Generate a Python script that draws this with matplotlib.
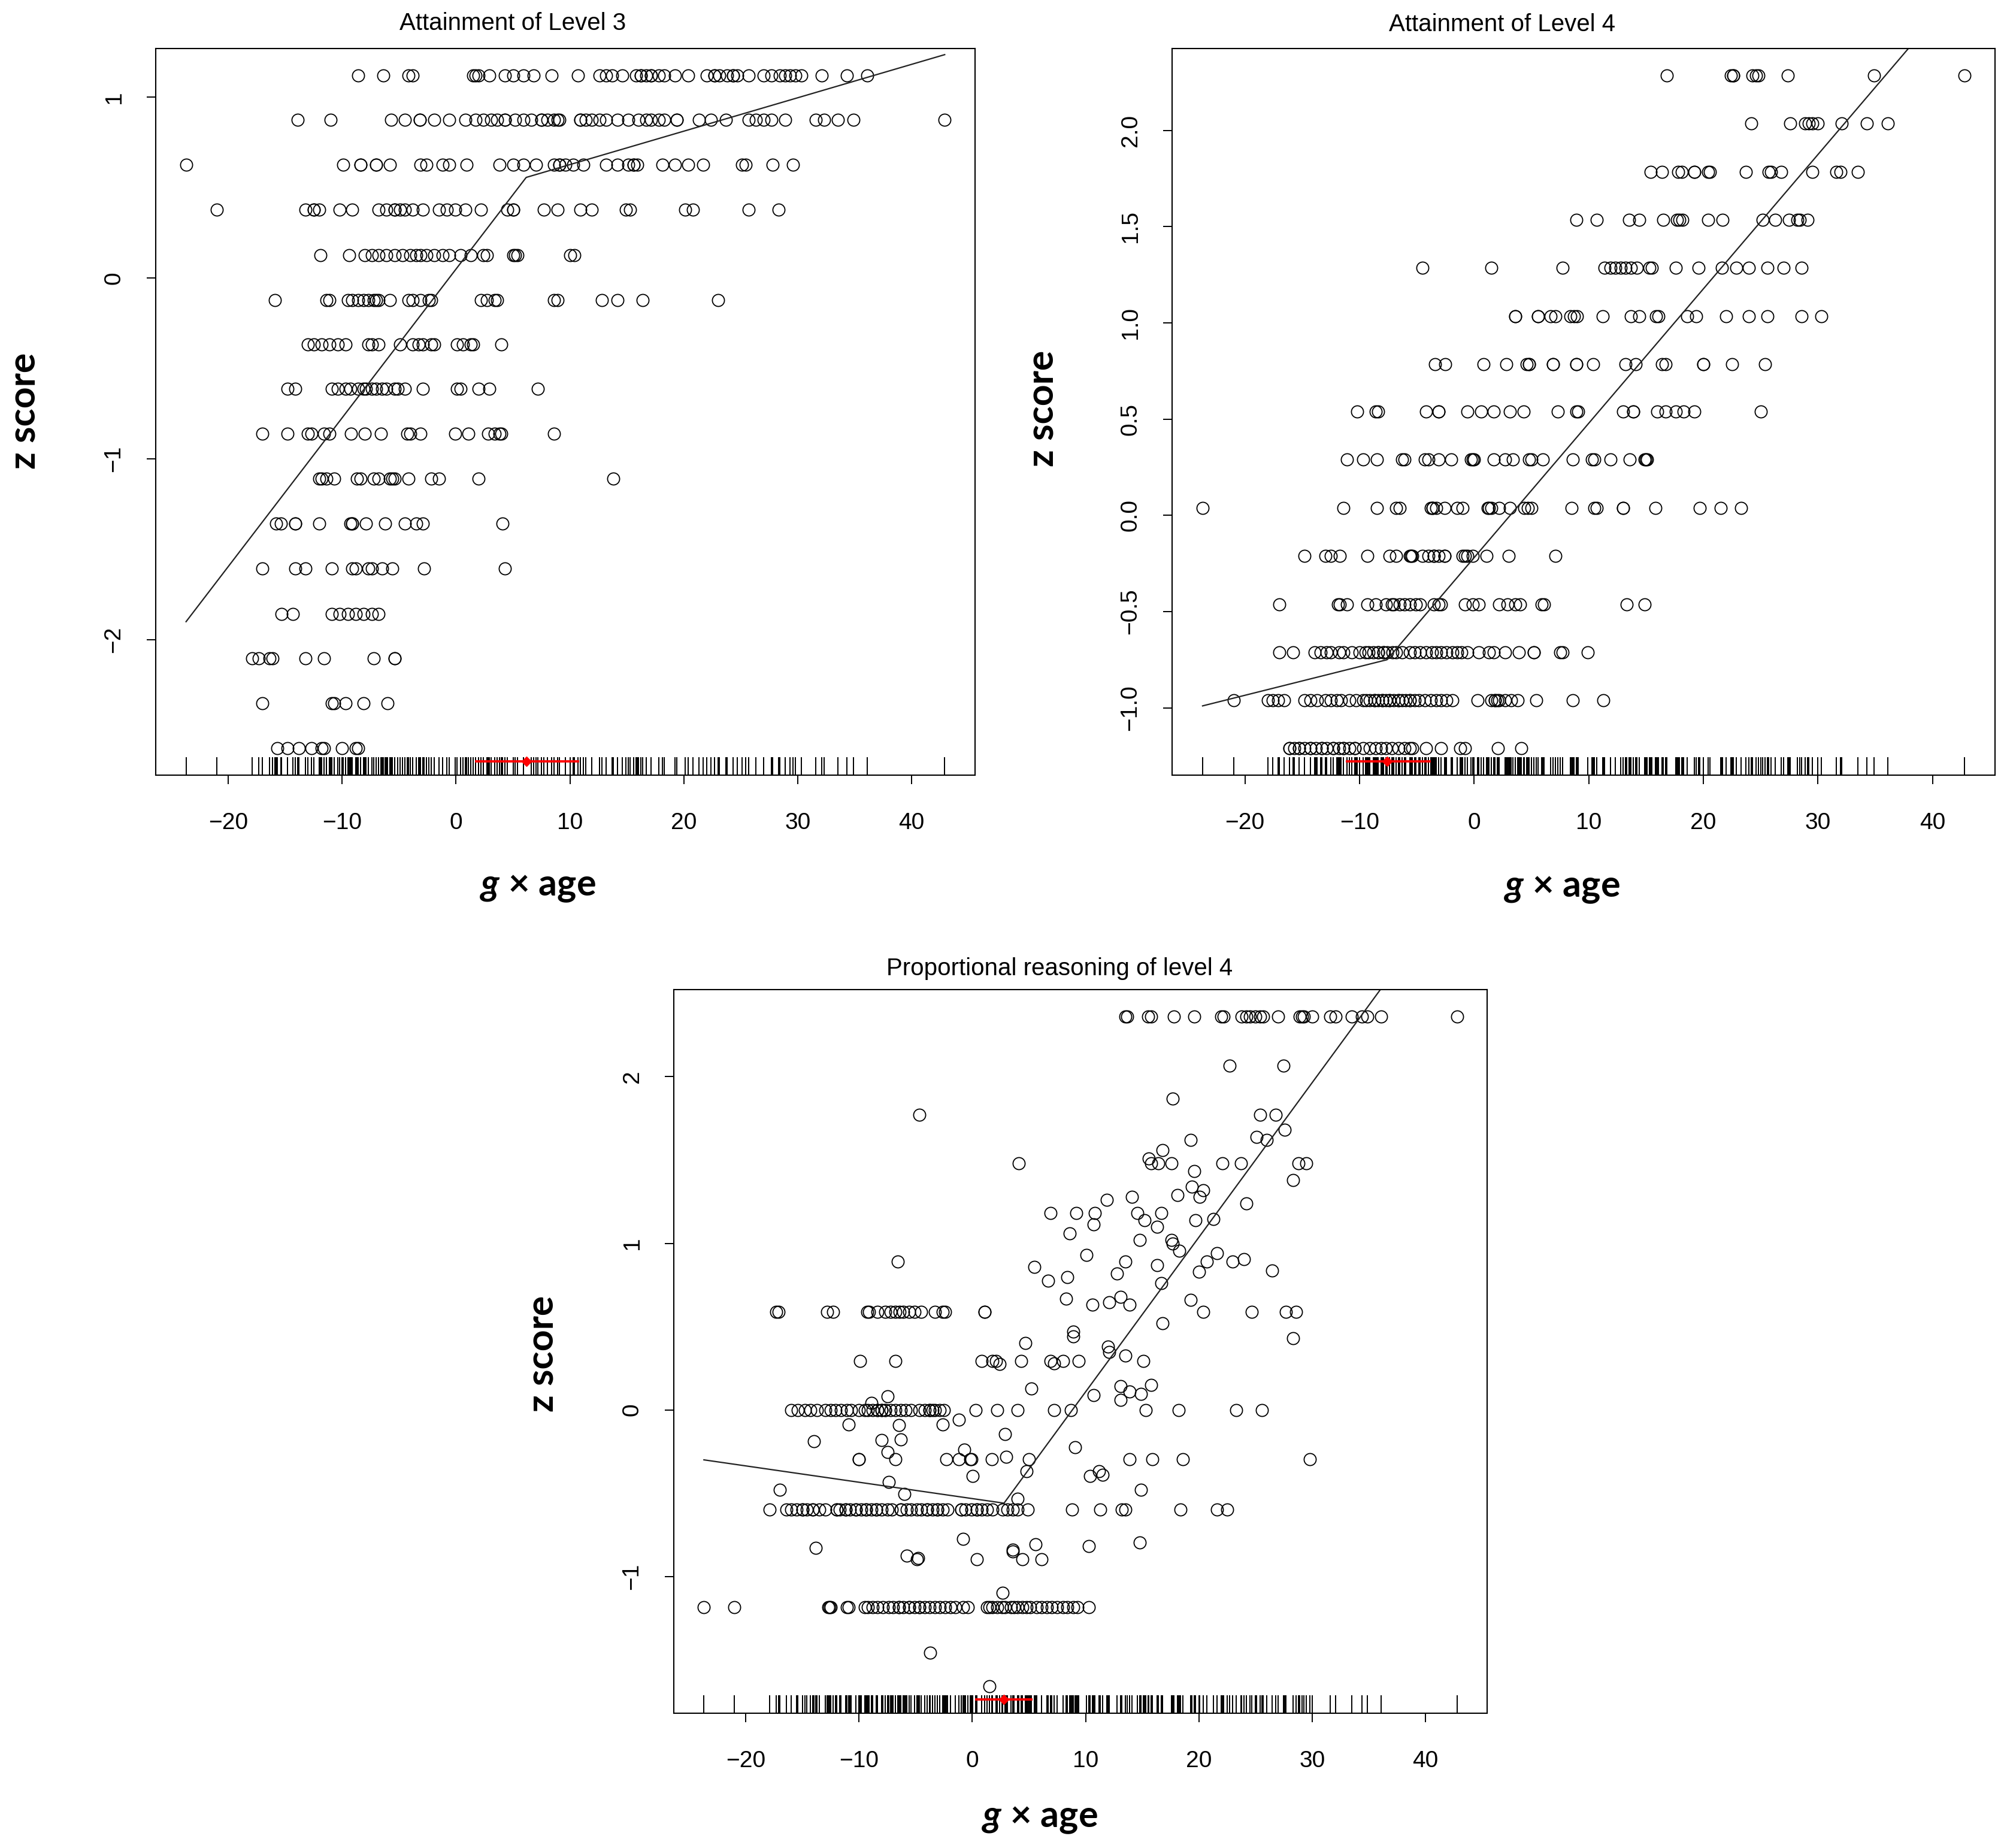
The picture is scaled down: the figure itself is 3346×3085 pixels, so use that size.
import matplotlib
matplotlib.use('Agg')
import matplotlib.pyplot as plt

plt.rcParams['font.family'] = ['Liberation Sans', 'DejaVu Sans']
plt.rcParams['mathtext.fontset'] = 'custom'
plt.rcParams['mathtext.it'] = 'Lato:italic:bold'
plt.rcParams['mathtext.rm'] = 'Lato:bold'

# ---------------- Attainment of Level 3 ----------------
l3_levels = [1.121, 0.875, 0.626, 0.377, 0.128, -0.121, -0.367, -0.613,
             -0.862, -1.108, -1.357, -1.607, -1.856, -2.102, -2.351, -2.600]
l3_rows = [
    [-8.6, -6.4, -4.2, -3.8, 1.5, 1.7, 2.0, 2.9, 4.3, 5.0, 5.9, 6.8, 8.4, 10.7, 12.6, 13.2, 13.7, 14.6,
     15.8, 16.2, 16.2, 16.7, 17.1, 17.1, 17.8, 18.3, 19.2, 20.4, 22.0, 22.7, 22.7, 23.1, 23.8, 24.3, 24.3,
     24.7, 25.7, 27.0, 27.7, 28.4, 28.9, 29.3, 29.8, 30.3, 32.1, 34.3, 36.1],
    [-13.9, -11.0, -5.7, -4.5, -3.2, -3.2, -1.9, -0.6, 0.8, 1.7, 2.4, 3.1, 3.6, 4.3, 4.3, 5.2, 5.9, 6.6,
     7.5, 7.5, 8.0, 8.6, 8.9, 9.1, 10.9, 10.9, 11.4, 11.9, 12.6, 13.2, 14.2, 15.1, 16.0, 16.7, 17.1, 17.8,
     18.3, 19.4, 19.4, 21.3, 22.4, 23.7, 25.7, 26.3, 27.0, 27.7, 28.9, 31.6, 32.3, 33.5, 34.9, 42.9],
    [-23.7, -9.9, -8.4, -8.4, -7.0, -7.0, -5.8, -3.1, -2.6, -1.2, -0.6, 0.9, 3.8, 5.0, 5.9, 7.0, 8.6, 9.1,
     9.1, 9.6, 10.3, 11.2, 13.2, 14.2, 15.1, 15.6, 15.6, 15.9, 18.1, 19.2, 20.4, 21.7, 25.1, 25.4, 27.8, 29.6],
    [-21.0, -13.2, -12.5, -12.5, -12.0, -10.2, -9.1, -6.8, -6.1, -5.4, -5.4, -4.9, -4.5, -3.8, -2.9, -1.5,
     -0.8, -0.1, 0.8, 2.2, 4.5, 5.0, 5.0, 7.7, 8.9, 10.9, 11.9, 14.9, 15.3, 20.1, 20.8, 25.7, 28.3],
    [-11.9, -9.4, -8.0, -7.4, -6.8, -6.1, -5.4, -4.7, -4.0, -3.5, -3.1, -2.6, -1.9, -1.2, -0.6, 0.4, 1.3,
     2.4, 2.7, 5.0, 5.2, 5.4, 10.0, 10.4],
    [-15.9, -11.4, -11.1, -9.5, -9.1, -8.6, -8.1, -7.7, -7.2, -7.0, -6.8, -5.8, -4.2, -3.8, -3.1, -2.4,
     -2.2, 2.2, 2.7, 3.4, 3.6, 8.6, 8.9, 12.8, 14.2, 16.4, 23.0],
    [-13.0, -12.5, -11.8, -11.1, -10.4, -9.7, -7.7, -7.4, -6.8, -4.9, -3.8, -3.3, -2.9, -2.2, -1.9, 0.1,
     0.6, 1.3, 1.5, 4.0],
    [-14.8, -14.1, -10.9, -10.4, -9.7, -9.3, -8.6, -8.1, -7.9, -7.4, -7.0, -6.5, -6.1, -5.4, -5.1, -4.5,
     -2.9, 0.1, 0.4, 2.0, 2.9, 7.2],
    [-17.0, -14.8, -13.0, -12.7, -11.6, -11.1, -9.2, -8.0, -6.6, -4.3, -4.0, -3.1, -0.1, 1.1, 2.8, 3.4,
     3.8, 4.0, 8.6],
    [-12.0, -11.8, -11.4, -10.7, -8.7, -8.4, -7.2, -6.8, -5.8, -5.6, -5.4, -4.2, -2.2, -1.5, 2.0, 13.8],
    [-15.8, -15.4, -14.1, -14.1, -12.0, -9.3, -9.1, -9.1, -7.9, -6.2, -4.5, -3.5, -2.9, 4.1],
    [-17.0, -14.1, -13.2, -10.9, -9.1, -8.8, -7.7, -7.4, -6.5, -5.6, -2.8, 4.3],
    [-15.3, -14.3, -10.9, -10.2, -9.5, -8.8, -8.1, -7.4, -6.8],
    [-17.9, -17.3, -16.4, -16.1, -13.2, -11.6, -7.2, -5.4, -5.4],
    [-17.0, -10.9, -10.7, -9.7, -8.1, -6.0],
    [-15.7, -14.8, -13.8, -12.7, -11.8, -11.6, -10.0, -8.8, -8.6],
]
l3_fit_x = [-23.7, 6.16, 42.9]
l3_fit_y = [-1.90, 0.557, 1.236]
l3_psi, l3_ci = 6.16, (1.75, 10.7)

# ---------------- Attainment of Level 4 ----------------
l4_levels = [2.286, 2.037, 1.785, 1.536, 1.287, 1.035, 0.786, 0.538, 0.289, 0.037,
             -0.212, -0.464, -0.713, -0.962, -1.210]
l4_rows = [
    [16.8, 22.4, 22.6, 22.6, 24.3, 24.6, 24.8, 27.4, 34.9, 42.8],
    [24.2, 27.6, 28.9, 29.2, 29.5, 30.0, 32.1, 34.3, 36.1],
    [15.4, 16.4, 17.8, 18.1, 19.2, 19.2, 20.4, 20.6, 23.7, 25.7, 25.9, 26.8, 29.5, 31.6, 32.0, 33.5],
    [8.9, 10.7, 13.5, 14.4, 16.5, 17.7, 17.9, 18.2, 20.4, 21.7, 25.2, 26.3, 27.5, 28.2, 28.4, 29.1],
    [-4.5, 1.5, 7.7, 11.4, 11.9, 12.3, 12.8, 13.2, 13.7, 14.2, 15.3, 15.5, 17.6, 19.6, 21.6, 22.9, 24.0,
     25.6, 27.0, 28.6],
    [3.6, 3.6, 5.6, 5.6, 6.7, 7.1, 8.4, 8.7, 9.0, 11.2, 13.7, 14.4, 15.9, 16.1, 18.6, 19.4, 22.0, 24.0,
     25.6, 28.6, 30.3],
    [-3.4, -2.5, 0.8, 2.8, 4.6, 4.8, 4.8, 6.9, 6.9, 8.9, 8.9, 10.4, 13.2, 14.1, 16.4, 16.7, 20.0, 20.0,
     22.5, 25.4],
    [-10.2, -8.6, -8.4, -4.2, -3.1, -3.1, -0.6, 0.6, 1.7, 3.1, 4.3, 7.3, 8.9, 9.1, 13.0, 13.9, 13.9, 16.0,
     16.7, 17.6, 18.3, 19.2, 25.0],
    [-11.1, -9.7, -8.5, -6.3, -6.1, -4.3, -4.0, -3.1, -2.0, -0.3, -0.1, 0.0, 1.7, 2.7, 3.4, 4.8, 5.0, 6.0,
     8.6, 10.3, 10.5, 11.9, 13.6, 14.9, 15.0, 15.1],
    [-23.7, -11.4, -8.5, -6.8, -6.5, -3.8, -3.6, -3.6, -3.3, -2.6, -1.5, -1.0, 1.2, 1.3, 1.5, 2.2, 3.1,
     4.4, 4.7, 5.0, 8.5, 10.5, 10.7, 13.0, 13.0, 15.8, 19.7, 21.5, 23.3],
    [-14.8, -13.0, -12.5, -11.7, -9.3, -7.4, -6.8, -5.6, -5.5, -5.4, -4.5, -4.0, -3.5, -3.5, -3.1, -2.6,
     -2.6, -1.0, -0.8, -0.6, -0.1, 1.1, 3.0, 7.1],
    [-17.0, -11.9, -11.7, -11.1, -9.3, -8.6, -7.7, -7.2, -7.0, -6.5, -6.1, -5.6, -5.1, -4.7, -3.5, -3.1,
     -2.9, -0.8, -0.1, 0.4, 2.2, 2.9, 3.6, 4.0, 5.9, 6.1, 13.3, 14.9],
    [-17.0, -15.8, -13.9, -13.4, -12.9, -12.5, -11.8, -11.4, -10.7, -10.0, -9.5, -9.2, -8.8, -8.4, -8.4,
     -7.9, -7.9, -7.6, -7.1, -6.8, -6.3, -5.6, -5.2, -4.7, -4.2, -3.7, -3.3, -2.9, -2.4, -1.9, -1.5, -1.1,
     -0.6, 0.4, 1.3, 1.7, 2.7, 3.9, 5.2, 5.2, 7.5, 7.7, 9.9],
    [-21.0, -18.0, -17.6, -17.1, -16.6, -14.8, -14.3, -13.7, -13.0, -12.5, -12.0, -11.6, -10.9, -10.3,
     -9.7, -9.4, -9.1, -8.7, -8.7, -8.4, -8.0, -8.0, -7.7, -7.4, -7.4, -7.0, -6.6, -6.6, -6.3, -6.0, -5.6,
     -5.6, -5.2, -4.8, -4.3, -3.8, -3.3, -2.9, -2.4, -1.9, 0.3, 1.5, 1.8, 1.8, 2.0, 2.2, 2.7, 3.2, 3.8,
     5.4, 8.6, 11.3],
    [-16.1, -16.1, -15.7, -15.3, -15.3, -14.8, -14.3, -14.3, -13.8, -13.3, -13.3, -12.9, -12.3, -12.3,
     -11.8, -11.4, -11.4, -10.9, -10.4, -10.4, -9.7, -9.1, -8.6, -8.1, -7.7, -7.2, -6.6, -6.1, -5.6, -5.4,
     -4.2, -2.9, -1.2, -0.8, 2.1, 4.1],
]
l4_fit_x = [-23.7, -7.6, 42.9]
l4_fit_y = [-0.99, -0.75, 2.775]
l4_psi, l4_ci = -7.6, (-11.1, -3.9)

# ---------------- Proportional reasoning of level 4 ----------------
pr_levels = [2.362, 0.59, 0.0, -0.598, -1.185]
pr_rows = [
    [13.5, 13.7, 15.5, 15.8, 17.8, 19.6, 22.0, 22.2, 23.8, 24.2, 24.5, 25.0, 25.4, 25.7, 27.0, 28.9, 29.1,
     29.3, 30.0, 31.6, 32.1, 33.5, 34.4, 34.9, 36.1, 42.8],
    [-17.3, -17.1, -12.8, -12.3, -9.3, -9.1, -8.4, -7.7, -7.2, -6.8, -6.4, -6.1, -5.6, -5.1, -4.5, -3.3,
     -2.6, -2.4, 1.1, 1.1, 20.4, 24.7, 27.7, 28.6],
    [-16.0, -15.4, -14.8, -14.3, -13.7, -13.0, -12.5, -12.1, -11.6, -11.1, -10.7, -10.0, -9.5, -9.2, -8.8,
     -8.4, -8.4, -8.0, -8.0, -7.7, -7.7, -7.2, -6.8, -6.3, -5.9, -5.4, -4.7, -4.2, -3.8, -3.8, -3.5, -3.3,
     -2.9, -2.5, 0.3, 2.2, 4.0, 7.2, 8.7, 15.3, 18.2, 23.3, 25.6],
    [-17.9, -16.4, -16.0, -15.5, -15.0, -15.0, -14.6, -14.1, -14.1, -13.5, -13.0, -12.0, -12.0, -11.7,
     -11.2, -11.2, -10.8, -10.3, -10.3, -9.8, -9.4, -9.4, -8.9, -8.5, -8.5, -8.0, -7.5, -7.1, -6.3, -6.3,
     -5.8, -5.4, -4.9, -4.5, -4.0, -4.0, -3.5, -3.1, -3.1, -2.6, -2.2, -1.0, -1.0, -0.6, -0.1, 0.4, 0.4,
     0.8, 1.3, 1.8, 2.7, 3.1, 3.6, 4.0, 4.9, 8.8, 11.3, 13.2, 13.5, 18.4, 21.6, 22.5],
    [-23.7, -21.0, -12.7, -12.6, -12.5, -11.1, -10.9, -9.5, -9.2, -8.8, -8.4, -7.9, -7.4, -7.0, -6.5,
     -6.5, -6.1, -5.6, -5.6, -5.1, -4.7, -4.7, -4.2, -3.8, -3.3, -2.9, -2.4, -1.9, -1.5, -0.8, -0.4, 1.3,
     1.5, 1.8, 2.2, 2.6, 2.9, 3.4, 3.7, 4.0, 4.4, 4.8, 5.1, 5.7, 6.1, 6.6, 7.0, 7.5, 8.0, 8.4, 8.9, 9.3,
     10.3],
]
pr_free_x = [22.7, 27.5, 17.7, -4.7, 25.4, 26.8, 27.6, 25.1, 26.0, 19.3, 16.8, 4.1, 15.6, 15.8, 16.4,
             17.6, 22.1, 23.7, 28.8, 29.5, 19.6, 28.3, 19.4, 20.4, 18.1, 20.1, 11.9, 14.1, 24.2, 6.9,
             9.2, 10.8, 14.6, 16.7, 15.2, 10.7, 19.7, 21.3, 16.3, 8.6, 14.8, 17.6, 17.7, 18.3, 10.1,
             -6.6, 13.5, 21.6, 20.7, 23.0, 24.0, 5.5, 16.3, 26.5, 12.8, 20.0, 8.4, 6.7, 16.7, 8.3,
             13.1, 19.3, 10.6, 12.1, 13.9,
             16.8, 8.9, 8.9, 28.3, 4.7, 12.0,
             -9.9, -6.8, 0.8, 1.8, 2.1, 2.4, 4.3, 6.9, 7.2, 8.0, 9.4, 12.1, 13.5, 15.1,
             5.2, -7.5, 13.1, 15.8, 13.9, 14.9, 10.7, 13.1, -8.9,
             -10.9, -6.5, -2.6, -1.2, 2.9, -14.0, -8.0, -6.3, 9.1, -0.7, -7.5,
             -10.0, -10.0, -6.8, -2.3, -1.2, -0.2, -0.1, 1.7, 3.0, 5.0, 13.9, 15.9, 18.6, 29.8,
             0.05, 4.8, 10.4, 11.2, 11.5, -7.4, -17.0, -6.0, 14.9, 4.0,
             -13.8, -0.8, 5.6, 10.3, 14.8, -5.8, -4.9, -4.8, 3.6, 3.6, 0.4, 4.4, 6.1, 2.7, -3.7, 1.5]
pr_free_y = [2.067, 2.067, 1.87, 1.77, 1.77, 1.77, 1.68, 1.64, 1.62, 1.62, 1.56, 1.48, 1.51, 1.48, 1.48,
             1.48, 1.48, 1.48, 1.48, 1.48, 1.435, 1.38, 1.34, 1.32, 1.29, 1.28, 1.26, 1.28, 1.24, 1.18,
             1.18, 1.18, 1.18, 1.18, 1.14, 1.115, 1.14, 1.145, 1.10, 1.06, 1.02, 1.02, 1.00, 0.955, 0.93,
             0.89, 0.89, 0.94, 0.89, 0.89, 0.906, 0.858, 0.87, 0.837, 0.82, 0.83, 0.796, 0.776, 0.76, 0.666,
             0.677, 0.66, 0.63, 0.645, 0.63,
             0.52, 0.47, 0.44, 0.43, 0.40, 0.38,
             0.295, 0.295, 0.295, 0.295, 0.295, 0.276, 0.295, 0.295, 0.28, 0.295, 0.295, 0.346, 0.325, 0.295,
             0.129, 0.083, 0.143, 0.15, 0.11, 0.094, 0.087, 0.059, 0.041,
             -0.086, -0.093, -0.086, -0.06, -0.147, -0.19, -0.18, -0.177, -0.226, -0.24, -0.254,
             -0.296, -0.296, -0.296, -0.296, -0.296, -0.296, -0.296, -0.296, -0.282, -0.296, -0.296, -0.296,
             -0.296, -0.296,
             -0.397, -0.369, -0.397, -0.369, -0.39, -0.432, -0.478, -0.506, -0.478, -0.534,
             -0.829, -0.776, -0.806, -0.818, -0.797, -0.874, -0.895, -0.89, -0.839, -0.85, -0.895, -0.895,
             -0.895, -1.098, -1.456, -1.66]
pr_fit_x = [-23.7, 2.8, 42.9]
pr_fit_y = [-0.30, -0.56, 3.16]
pr_psi, pr_ci = 2.8, (0.37, 5.2)

W, H = 3346, 3085
fig = plt.figure(figsize=(W / 100, H / 100), dpi=100)


def rlim(v):
    lo, hi = min(v), max(v)
    d = 0.04 * (hi - lo)
    return lo - d, hi + d


def fmt_tick(v, nd):
    s = f'{v:.{nd}f}'
    return s.replace('-', '\u2212')


def draw(rect, levels, rows, fx, fy, fit_x, fit_y, psi, ci, yticks, nd, title, tpos, xpos, ypos):
    x0, top, w, h = rect
    ax = fig.add_axes([x0 / W, 1 - (top + h) / H, w / W, h / H])
    xs, ys = [], []
    for lev, row in zip(levels, rows):
        xs += row
        ys += [lev] * len(row)
    xs += fx
    ys += fy
    ax.plot(xs, ys, 'o', mfc='none', mec='black', ms=14.5, mew=1.3, ls='none')
    ax.plot(fit_x, fit_y, color='#222222', lw=1.6)
    ax.vlines(xs, 0, 0.025, transform=ax.get_xaxis_transform(), color='black', lw=1.4)
    ax.plot(ci, [0.019, 0.019], color='red', lw=2.8, transform=ax.get_xaxis_transform())
    ax.plot([psi], [0.019], 'D', color='red', ms=8.5, transform=ax.get_xaxis_transform())
    ax.set_xlim(rlim(xs))
    ax.set_ylim(rlim(ys))
    xt = [-20, -10, 0, 10, 20, 30, 40]
    ax.set_xticks(xt, labels=[fmt_tick(v, 0) for v in xt])
    ax.set_yticks(yticks, labels=[fmt_tick(v, nd) for v in yticks])
    ax.tick_params(axis='both', direction='out', length=11, width=1.4, labelsize=28, colors='black')
    ax.tick_params(axis='x', pad=34)
    ax.tick_params(axis='y', pad=26, labelrotation=90)
    for lab in ax.get_yticklabels():
        lab.set_va('center')
    for sp in ax.spines.values():
        sp.set_linewidth(1.5)
    fig.text(tpos[0] / W, 1 - tpos[1] / H, title, ha='center', va='baseline', fontsize=29)
    fig.text(xpos[0] / W, 1 - xpos[1] / H, r'$g$ × age', ha='center', va='baseline',
             fontsize=44, family='Lato', weight='bold')
    fig.text(ypos[0] / W, 1 - ypos[1] / H, 'z score', ha='center', va='center', rotation=90,
             fontsize=45, family='Lato', weight='bold')
    return ax


draw((260, 81, 1368, 1213), l3_levels, l3_rows, [], [], l3_fit_x, l3_fit_y, l3_psi, l3_ci,
     [-2, -1, 0, 1], 0, 'Attainment of Level 3', (856, 49.5), (898, 1495), (42, 686))
draw((1957, 81, 1374, 1213), l4_levels, l4_rows, [], [], l4_fit_x, l4_fit_y, l4_psi, l4_ci,
     [-1.0, -0.5, 0.0, 0.5, 1.0, 1.5, 2.0], 1, 'Attainment of Level 4', (2508, 51.5), (2608, 1497),
     (1741, 682))
draw((1125, 1652, 1358, 1208), pr_levels, pr_rows, pr_free_x, pr_free_y, pr_fit_x, pr_fit_y, pr_psi,
     pr_ci, [-1, 0, 1, 2], 0, 'Proportional reasoning of level 4', (1769, 1628), (1736, 3050),
     (906, 2260))

fig.savefig('out.png', dpi=100)
